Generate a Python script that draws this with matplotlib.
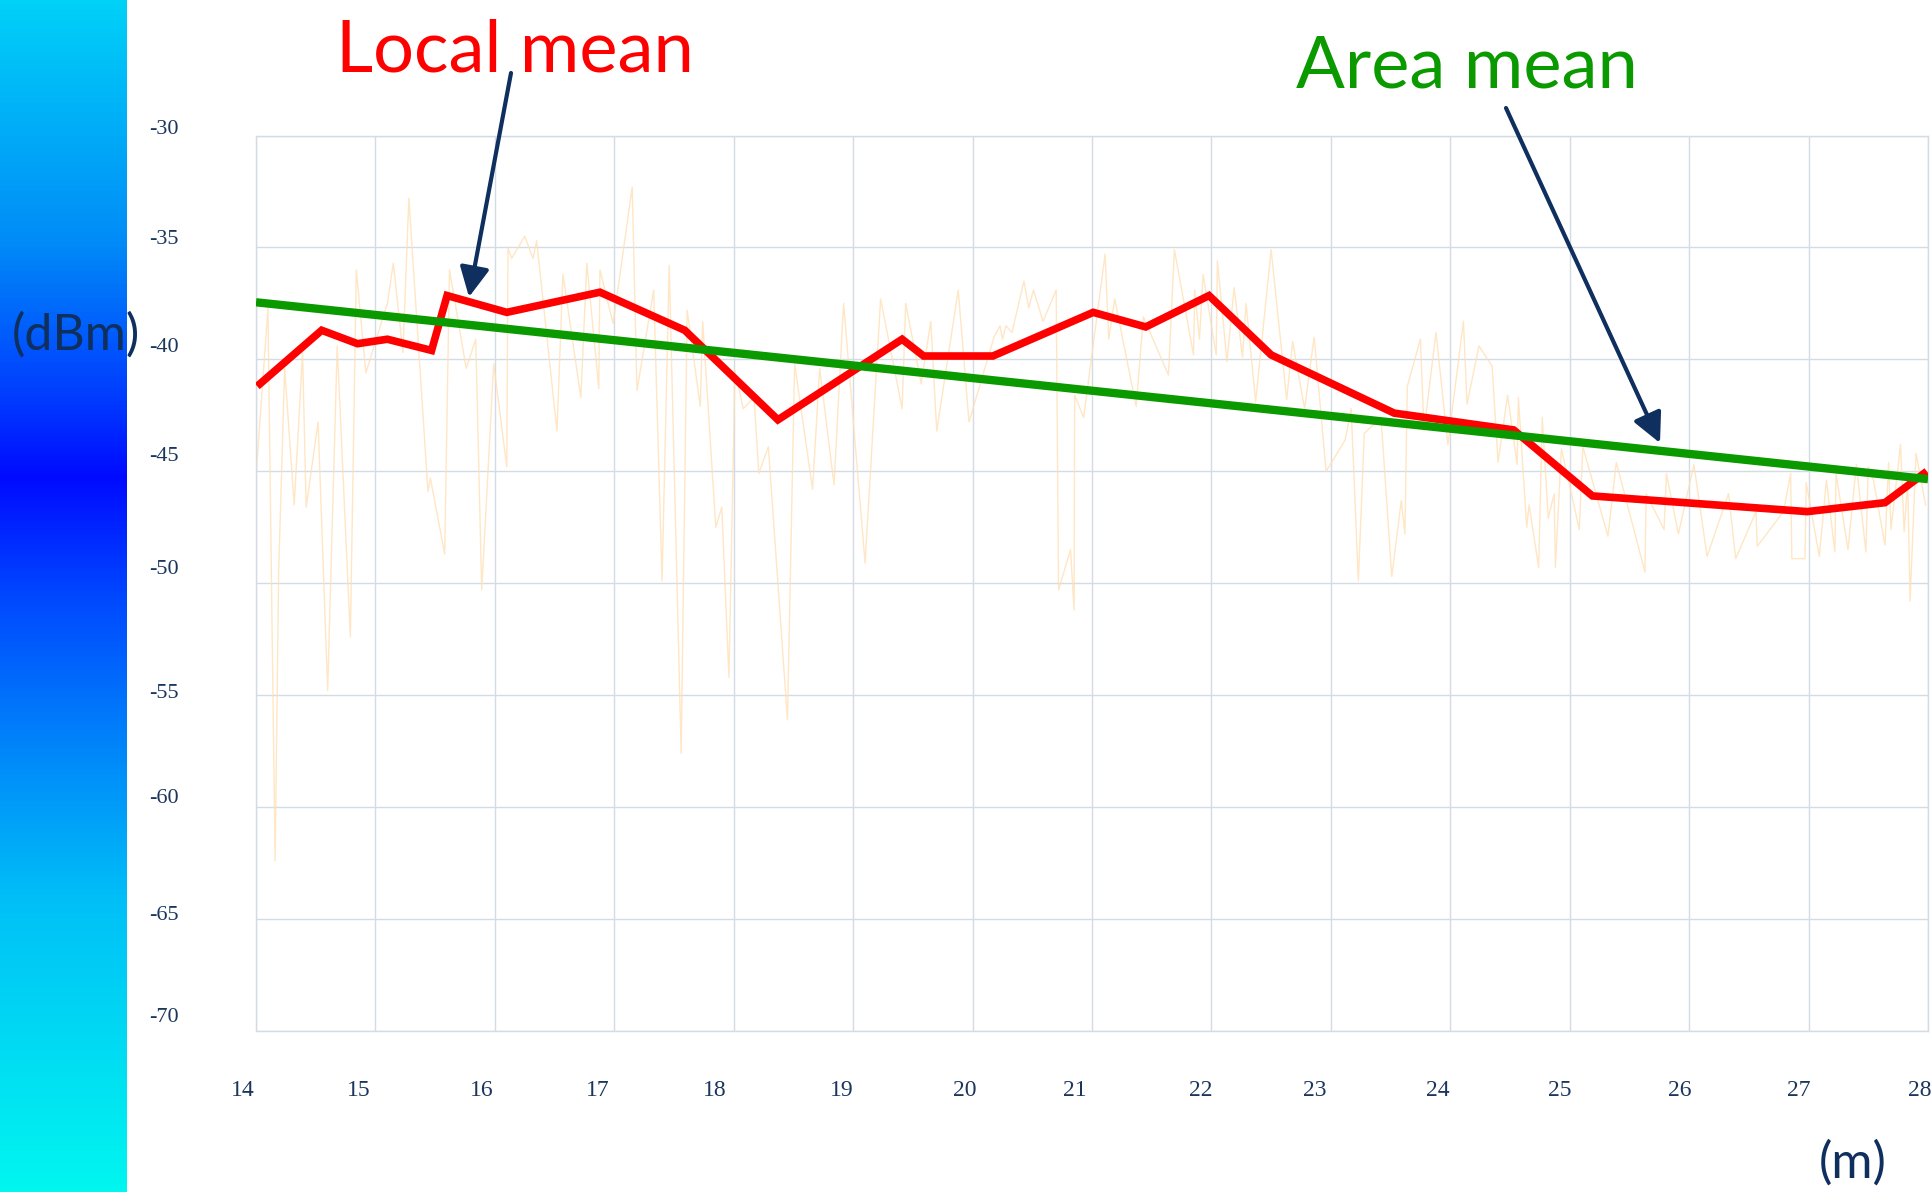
import numpy as np
import matplotlib
matplotlib.use("Agg")
import matplotlib.pyplot as plt
from matplotlib import transforms, font_manager
from matplotlib.colors import LinearSegmentedColormap

# ---------------- data ----------------
x_ticks = list(range(14, 29))
y_ticks = [-30, -35, -40, -45, -50, -55, -60, -65, -70]

local_x = [14.01, 14.55, 14.85, 15.10, 15.47, 15.60, 16.10, 16.88, 17.59, 18.37, 19.41,
           19.59, 20.17, 21.01, 21.45, 21.98, 22.50, 23.53, 24.53, 25.19, 26.99, 27.64, 27.99]
local_y = [-41.2, -38.7, -39.3, -39.1, -39.6, -37.15, -37.9, -37.0, -38.7, -42.7, -39.1,
           -39.85, -39.85, -37.9, -38.55, -37.15, -39.8, -42.4, -43.15, -46.1, -46.8, -46.4, -45.0]

area_x = [14.0, 28.0]
area_y = [-37.45, -45.35]

signal_x = [14.005, 14.10, 14.16, 14.19, 14.24, 14.32, 14.39, 14.42, 14.52, 14.60,
            14.68, 14.79, 14.84, 14.92, 15.10, 15.15, 15.23, 15.28, 15.44, 15.46,
            15.58, 15.62, 15.76, 15.84, 15.89, 15.99, 16.10, 16.11, 16.14, 16.25,
            16.32, 16.35, 16.52, 16.57, 16.72, 16.77, 16.87, 16.88, 16.99, 17.15,
            17.19, 17.33, 17.40, 17.46, 17.56, 17.61, 17.72, 17.74, 17.85, 17.90,
            17.96, 18.01, 18.08, 18.17, 18.21, 18.29, 18.45, 18.51, 18.66,
            18.72, 18.84, 18.92, 19.10, 19.23, 19.41, 19.44, 19.57, 19.65, 19.70,
            19.88, 19.97, 20.18, 20.23, 20.25, 20.28, 20.33, 20.43, 20.47, 20.51,
            20.59, 20.70, 20.72, 20.82, 20.85, 20.855, 20.93, 21.11, 21.14, 21.19,
            21.37, 21.43, 21.64, 21.69, 21.85, 21.86, 21.90, 21.93, 22.04, 22.05,
            22.13, 22.19, 22.26, 22.29, 22.37, 22.50, 22.63, 22.68, 22.78, 22.86,
            22.96, 23.12, 23.17, 23.23, 23.28,
            23.42, 23.51, 23.59, 23.62, 23.64, 23.75, 23.78, 23.88, 23.98, 24.11,
            24.14, 24.24, 24.35, 24.40, 24.48, 24.56, 24.57, 24.64, 24.66, 24.74,
            24.77, 24.82, 24.87, 24.88, 24.93, 25.01, 25.08, 25.11, 25.32, 25.39,
            25.63, 25.64, 25.79, 25.81, 25.91, 26.04, 26.15, 26.33, 26.39, 26.56,
            26.57, 26.79, 26.85, 26.86, 26.97, 26.98, 27.09, 27.15, 27.22, 27.23,
            27.33, 27.40, 27.48, 27.50, 27.54, 27.64, 27.67, 27.69, 27.77, 27.80,
            27.83, 27.85, 27.90, 27.98]
signal_y = [-44.9, -37.7, -62.4, -49.4, -40.4, -46.5, -39.7, -46.6, -42.8, -54.8,
            -39.4, -52.4, -36.0, -40.6, -37.5, -35.7, -39.7, -32.8, -45.9, -45.3,
            -48.7, -36.0, -40.4, -39.1, -50.3, -40.2, -44.8, -35.0, -35.5, -34.5,
            -35.5, -34.7, -43.2, -36.2, -41.7, -35.7, -41.3, -36.0, -38.4, -32.3,
            -41.4, -36.9, -49.9, -35.8, -57.6, -37.8, -42.1, -38.3, -47.5, -46.6,
            -54.2, -40.5, -42.2, -41.7, -45.1, -43.9, -56.1, -40.2, -45.8,
            -40.4, -45.6, -37.5, -49.1, -37.3, -42.2, -37.5, -41.1, -38.3, -43.2,
            -36.9, -42.8, -39.0, -38.5, -39.1, -38.5, -38.8, -36.5, -37.7, -36.9,
            -38.3, -36.9, -50.3, -48.5, -51.2, -41.6, -42.6, -35.3, -39.1, -37.3,
            -42.1, -38.1, -40.7, -35.1, -39.8, -36.9, -39.1, -36.2, -39.8, -35.6,
            -40.1, -36.8, -39.9, -37.5, -41.9, -35.1, -41.8, -39.2, -42.2, -39.0,
            -45.0, -43.6, -42.2, -49.9, -43.3,
            -42.6, -49.7, -46.3, -47.8, -41.2, -39.1, -43.2, -38.8, -43.8, -38.3,
            -42.0, -39.4, -40.3, -44.6, -41.6, -44.7, -41.7, -47.5, -46.5, -49.3,
            -42.6, -47.1, -46.0, -49.3, -44.0, -45.9, -47.6, -43.9, -47.9, -44.6,
            -49.5, -46.0, -47.6, -45.1, -47.8, -44.7, -48.8, -46.0, -48.9, -46.8,
            -48.35, -46.8, -45.1, -48.9, -48.9, -45.5, -48.8, -45.4, -48.6, -45.1,
            -48.5, -44.7, -48.6, -44.8, -45.3, -48.3, -44.6, -47.6, -43.8, -47.7,
            -45.4, -50.8, -44.2, -46.5]

# ---------------- styles / positions ----------------
W, H, DPI = 1932, 1192, 100
NAVY = "#0f2f5e"
TICK_COL = "#1b365d"
GRID_COL = "#d3dbe5"
xlab_dx = [-13.5, -16.3, -13, -16.5, -18.8, -11.5, -8, -17, -10.5, -16, -12.4, -10, -9.5, -9.8, -8.5]
ylab_dy = [6, 8, 12, 15, 14, 2, 9, 4, 14]

avail = {f.name for f in font_manager.fontManager.ttflist}
if "Lato" in avail:
    HAND = "Lato"
    big, mid = 52, 36
else:
    HAND = "DejaVu Sans"
    big, mid = 46, 32
SERIF = "Liberation Serif" if "Liberation Serif" in avail else "DejaVu Serif"

fig = plt.figure(figsize=(W / DPI, H / DPI), dpi=DPI)
fig.patch.set_facecolor("white")

# gradient side bar
bar = fig.add_axes([0, 0, 127 / W, 1])
stops = [(0.0, (0.0, 0.82, 0.97)), (0.2, (0.0, 0.55, 0.97)), (0.33, (0.0, 0.24, 1.0)),
         (0.40, (0.0, 0.04, 1.0)), (0.5, (0.0, 0.28, 1.0)), (0.62, (0.0, 0.51, 0.98)),
         (0.755, (0.0, 0.75, 0.97)), (1.0, (0.0, 0.965, 0.94))]
cmap = LinearSegmentedColormap.from_list("bar", stops)
bar.imshow(np.linspace(0, 1, 512).reshape(-1, 1), aspect="auto", cmap=cmap,
           extent=[0, 1, 1, 0])
bar.set_axis_off()

# main axes
L, R, T, B = 256, 1928, 135.5, 1031
ax = fig.add_axes([L / W, 1 - B / H, (R - L) / W, (B - T) / H])
ax.set_xlim(14, 28)
ax.set_ylim(-70, -30)
ax.set_xticks(x_ticks)
ax.set_yticks(y_ticks)
ax.tick_params(length=0, labelbottom=False, labelleft=False)
ax.grid(True, color=GRID_COL, lw=1.0, zorder=0)
for s in ax.spines.values():
    s.set_color(GRID_COL)
    s.set_linewidth(1.0)
ax.set_axisbelow(True)

ax.plot(signal_x, signal_y, color="#ffe0b6", lw=1.0, alpha=0.8, zorder=2)
ax.plot(local_x, local_y, color="#ff0000", lw=5.5, solid_joinstyle="miter",
        solid_capstyle="butt", zorder=3)
ax.plot(area_x, area_y, color="#0a9a00", lw=6.0, solid_capstyle="butt", zorder=4)

# tick labels
for v, dx in zip(x_ticks, xlab_dx):
    tr = ax.get_xaxis_transform() + transforms.ScaledTranslation(dx / DPI, -60 / DPI, fig.dpi_scale_trans)
    ax.text(v, 0, str(v), transform=tr, ha="center", va="center", fontsize=17,
            family=SERIF, color=TICK_COL, clip_on=False)
for v, dy in zip(y_ticks, ylab_dy):
    tr = ax.get_yaxis_transform() + transforms.ScaledTranslation(-77 / DPI, dy / DPI, fig.dpi_scale_trans)
    ax.text(0, v, str(v), transform=tr, ha="right", va="center", fontsize=16,
            family=SERIF, color=TICK_COL, clip_on=False)

# annotations
fig.text(336 / W, 1 - 72 / H, "Local mean", color="#ff0000", fontsize=big,
         family=HAND, ha="left", va="baseline")
fig.text(1296 / W, 1 - 88 / H, "Area mean", color="#0a9a00", fontsize=big,
         family=HAND, ha="left", va="baseline")
fig.text(76 / W, 1 - 335 / H, "(dBm)", color=NAVY, fontsize=mid,
         family=HAND, ha="center", va="center", zorder=10)
fig.text(1853 / W, 1 - 1178 / H, "(m)", color=NAVY, fontsize=mid,
         family=HAND, ha="center", va="baseline")

arrow_kw = dict(arrowstyle="-|>,head_length=0.9,head_width=0.45", color=NAVY, lw=3.0,
                shrinkA=0, shrinkB=0, mutation_scale=20)
ax.annotate("", xy=(469, H - 297), xycoords="figure pixels",
            xytext=(511, H - 73), textcoords="figure pixels", arrowprops=arrow_kw)
ax.annotate("", xy=(1660, H - 443), xycoords="figure pixels",
            xytext=(1506, H - 108), textcoords="figure pixels", arrowprops=arrow_kw)

fig.savefig("out.png", dpi=DPI)
